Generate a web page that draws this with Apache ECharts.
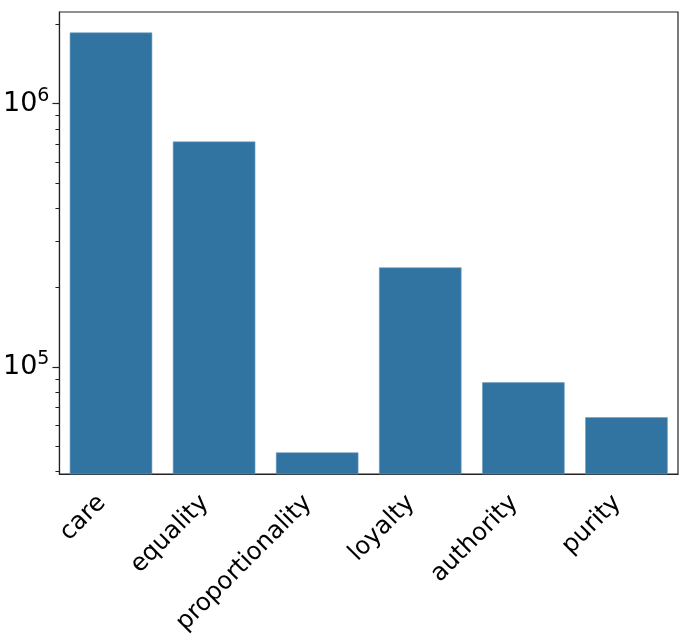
<!DOCTYPE html>
<html>
<head>
<meta charset="utf-8">
<script src="https://cdn.jsdelivr.net/npm/echarts@6/dist/echarts.min.js"></script>
<style>
  html, body { margin: 0; padding: 0; background: #fff; }
  #chart { width: 683px; height: 642px; }
</style>
</head>
<body>
<div id="chart"></div>
<script>
var categories = ['care', 'equality', 'proportionality', 'loyalty', 'authority', 'purity'];
var counts = [1861000, 717000, 47300, 238500, 87300, 64300];
var majorTicks = [1e5, 1e6];
var minorTicks = [40000, 50000, 60000, 70000, 80000, 90000,
                  200000, 300000, 400000, 500000, 600000, 700000, 800000, 900000, 2000000];

var font = 'DejaVu Sans';

var myChart = echarts.init(document.getElementById('chart'));
var option = {
    animation: false,
    grid: {
        left: 59, top: 12, right: 5, bottom: 168,
        show: true, borderColor: '#222', borderWidth: 1.2
    },
    xAxis: {
        type: 'category',
        data: categories,
        axisLine: { lineStyle: { color: '#222', width: 1.2 } },
        axisTick: { alignWithLabel: true, length: 7, lineStyle: { color: '#222', width: 1.2 } },
        axisLabel: {
            rotate: 45, margin: 16, color: '#000',
            padding: [0, 13, 0, 0],
            fontFamily: font, fontSize: 24.5, interval: 0
        }
    },
    yAxis: [{
        type: 'log', logBase: 10,
        min: 39150, max: 2227000,
        splitLine: { show: false },
        axisLine: { show: true, lineStyle: { color: '#222', width: 1.2 } },
        axisTick: { show: true, length: 7, customValues: majorTicks, lineStyle: { color: '#222', width: 1.2 } },
        axisLabel: {
            customValues: majorTicks, margin: 10, color: '#000',
            fontFamily: font, fontSize: 27,
            formatter: function (v) {
                return '10{sup|' + Math.round(Math.log10(v)) + '}';
            },
            rich: {
                sup: { fontFamily: font, fontSize: 19, padding: [0, 0, 15, 0], color: '#000' }
            }
        }
    }, {
        type: 'log', logBase: 10,
        min: 39150, max: 2227000,
        position: 'left',
        splitLine: { show: false },
        axisLine: { show: false },
        axisTick: { show: true, length: 4, customValues: minorTicks, lineStyle: { color: '#222', width: 1 } },
        axisLabel: { show: false }
    }],
    series: [{
        type: 'bar',
        data: counts,
        barWidth: '80%',
        itemStyle: { color: '#3274a1', borderColor: '#6f9bc0', borderWidth: 0.6 }
    }]
};
myChart.setOption(option);
</script>
</body>
</html>
